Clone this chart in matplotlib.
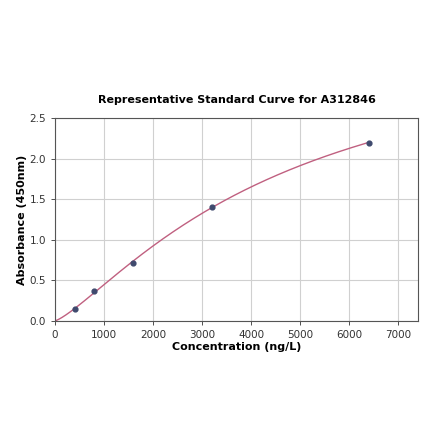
import numpy as np
import matplotlib
matplotlib.use("Agg")
import matplotlib.pyplot as plt

conc = np.array([0, 400, 800, 1600, 3200, 6400], dtype=float)
absorb = np.array([0.0, 0.15, 0.37, 0.72, 1.41, 2.20])
title = "Representative Standard Curve for A312846"
xlabel = "Concentration (ng/L)"
ylabel = "Absorbance (450nm)"
xticks = [0, 1000, 2000, 3000, 4000, 5000, 6000, 7000]
yticks = [0.0, 0.5, 1.0, 1.5, 2.0, 2.5]


def f4pl(x, p):
    a, b, c, d = p
    return d + (a - d) / (1.0 + (np.maximum(x, 1e-9) / c) ** b)


def fit4pl(x, y):
    p = np.array([0.0, 1.3, 5000.0, 4.0])
    lam = 1e-2
    for _ in range(500):
        r = y - f4pl(x, p)
        J = np.zeros((len(x), 4))
        for i in range(4):
            dp = np.zeros(4)
            h = 1e-6 * max(abs(p[i]), 1.0)
            dp[i] = h
            J[:, i] = (f4pl(x, p + dp) - f4pl(x, p - dp)) / (2 * h)
        A = J.T @ J
        g = J.T @ r
        step = np.linalg.solve(A + lam * np.diag(np.diag(A) + 1e-12), g)
        pn = p + step
        if pn[2] > 0 and np.sum((y - f4pl(x, pn)) ** 2) < np.sum(r ** 2):
            p = pn
            lam *= 0.5
        else:
            lam *= 4
    return p


params = fit4pl(conc, absorb)
xs = np.linspace(0, 6400, 400)
ys = f4pl(xs, params)

fig = plt.figure(figsize=(4.4, 4.41), dpi=100)
ax = fig.add_axes([0.125, 0.272, 0.825, 0.46])
ax.plot(xs, ys, color="#c06080", lw=1.0, zorder=2)
ax.scatter(conc[1:], absorb[1:], s=12, color="#3f4a6e", zorder=3)
ax.set_xlim(0, 7400)
ax.set_ylim(0, 2.5)
ax.set_xticks(xticks)
ax.set_yticks(yticks)
ax.tick_params(labelsize=7.5, length=3, width=0.6, colors="#333333")
ax.grid(True, color="#d0d0d0", lw=0.8)
ax.set_axisbelow(True)
for s in ax.spines.values():
    s.set_color("#555555")
    s.set_linewidth(0.8)
ax.set_xlabel(xlabel, fontsize=8, fontweight="bold", labelpad=1.5)
ax.set_ylabel(ylabel, fontsize=8, fontweight="bold", labelpad=1.5)
ax.set_title(title, fontsize=8, fontweight="bold", pad=11)
fig.savefig("out.png", dpi=100)
